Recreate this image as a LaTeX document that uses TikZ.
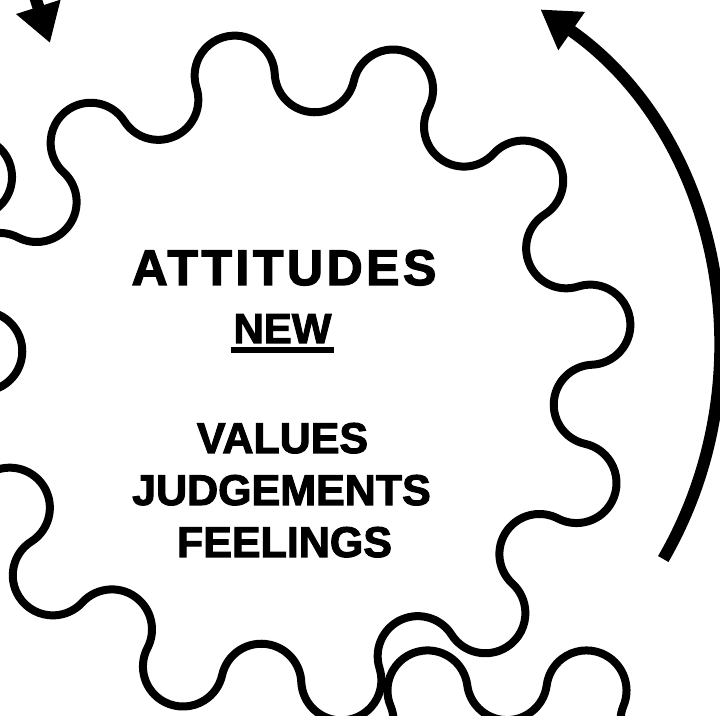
\documentclass[tikz,border=0pt]{standalone}
\usepackage{fontspec}
\setmainfont{Liberation Sans}[BoldFeatures={FakeBold=2.4}]
\newfontfamily\spacedfont{Liberation Sans}[LetterSpace=7,BoldFeatures={FakeBold=2.6}]
\usepackage{tikz}
\usetikzlibrary{arrows.meta,calc}
\definecolor{ink}{HTML}{000000}
\def\pitch{307}
\def\lobe{40.07}
% wavy ring of 12 lobes: #1 centre, #2 angle of the first lobe
\newcommand{\wavering}[2]{%
  \draw[ring] ($(#1)+(#2-7.5:{\pitch*cos(7.5)})$)
    \foreach \k in {0,...,11}{
      arc[start angle=#2+30*\k-97.5,end angle=#2+30*\k+97.5,radius=\lobe]
      arc[start angle=#2+30*\k-82.5,end angle=#2+30*\k-247.5,radius=\lobe]
    } -- cycle;}
\tikzset{
  ring/.style={draw=ink,line width=8pt,line join=round},
  sweep/.style={draw=ink,line width=12pt,-{Triangle[length=38pt,width=44pt]}},
  bigword/.style={font=\spacedfont\bfseries\fontsize{50}{60}\selectfont,text=ink,anchor=base,inner sep=0pt},
  midword/.style={font=\bfseries\fontsize{42}{50}\selectfont,text=ink,anchor=base,inner sep=0pt},
  word/.style={font=\bfseries\fontsize{43}{52}\selectfont,text=ink,anchor=base,inner sep=0pt},
  underbar/.style={draw=ink,line width=5.5pt},
}
\begin{document}
\begin{tikzpicture}[x=1pt,y=1pt]
  \useasboundingbox (0,0) rectangle (720,715);
  \clip (0,0) rectangle (720,715);
  \coordinate (main) at (288,337);
  \coordinate (lower) at (507,-272);
  \coordinate (left) at (-335,538);
  \wavering{main}{10}
  \wavering{lower}{75}
  \wavering{left}{0}
  % turning arrows
  \coordinate (turn) at (303,364);
  \coordinate (arcfoot) at ($(turn)+(-30:416)$);
  \draw[sweep] (arcfoot) arc[start angle=-30,end angle=55.2,radius=416];
  \coordinate (droptail) at (28,740);
  \coordinate (drophead) at (50,672);
  \draw[sweep] (droptail) -- (drophead);
  % labels
  \node[bigword] (attitudes) at (284,430) {ATTITUDES};
  \node[midword] (new) at (282.5,372) {NEW};
  \draw[underbar] ([xshift=-2pt,yshift=-7pt]new.south west) -- ([xshift=2pt,yshift=-7pt]new.south east);
  \node[word] (values) at (282.5,262) {VALUES};
  \node[word] (judgements) at (281.5,210) {JUDGEMENTS};
  \node[word] (feelings) at (284.5,158) {FEELINGS};
\end{tikzpicture}
\end{document}
